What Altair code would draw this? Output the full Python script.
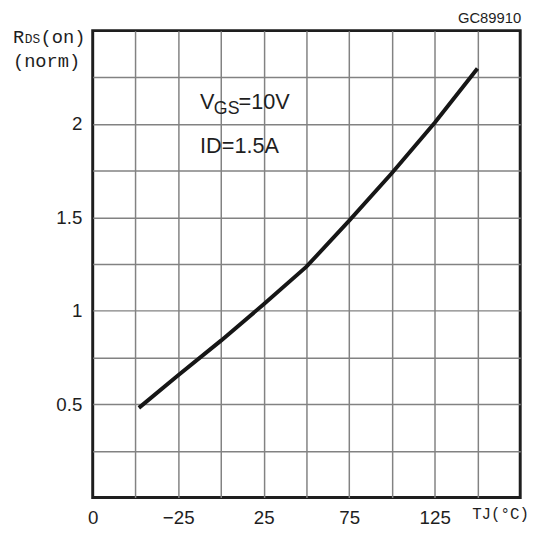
import altair as alt
import pandas as pd

# ---- data ----
temps = [-48, -25, 0, 25, 50, 75, 100, 125, 150]
rds = [0.48, 0.655, 0.84, 1.035, 1.236, 1.483, 1.738, 2.007, 2.297]

x_grid = [-75, -50, -25, 0, 25, 50, 75, 100, 125, 150, 175]
x_label_values = [-75, -25, 25, 75, 125]
x_label_texts = ["0", "\u221225", "25", "75", "125"]

y_grid = [0, 0.25, 0.5, 0.75, 1.0, 1.25, 1.5, 1.75, 2.0, 2.25, 2.5]
y_label_values = [0.5, 1.0, 1.5, 2.0]
y_label_texts = ["0.5", "1", "1.5", "2"]

x_unit = "TJ(\u00b0C)"
y_unit_main = "R"
y_unit_sub = "DS"
y_unit_tail = "(on)"
y_unit_line2 = "(norm)"
code_text = "GC89910"
cond_v = "V"
cond_v_sub = "GS"
cond_v_tail = "=10V"
cond_i = "ID=1.5A"

W, H = 434, 474
INK = "#1e1e1e"
GRID = "#828282"
FONT = "Liberation Sans"
MONO = "Liberation Mono"


def label_expr(vals, texts):
    expr = "''"
    for v, t in reversed(list(zip(vals, texts))):
        expr = f"(abs(datum.value - ({v})) < 1e-6 ? '{t}' : {expr})"
    return expr


df = pd.DataFrame({"T": temps, "R": rds})

x_axis = alt.Axis(
    values=x_grid,
    labelExpr=label_expr(x_label_values, x_label_texts),
    ticks=False,
    domain=False,
    grid=True,
    gridColor=GRID,
    gridWidth=1.5,
    gridOpacity={"condition": {"test": "datum.value <= -75 || datum.value >= 175", "value": 0}, "value": 1},
    title=None,
    labelFont=FONT,
    labelFontSize=19,
    labelColor=INK,
    labelPadding=11,
    labelOverlap=False,
    labelFlush=False,
    labelBound=False,
)
y_axis = alt.Axis(
    values=y_grid,
    labelExpr=label_expr(y_label_values, y_label_texts),
    ticks=False,
    domain=False,
    grid=True,
    gridColor=GRID,
    gridWidth=1.5,
    gridOpacity={"condition": {"test": "datum.value <= 0 || datum.value >= 2.5", "value": 0}, "value": 1},
    title=None,
    labelFont=FONT,
    labelFontSize=19,
    labelColor=INK,
    labelPadding=11,
    labelOverlap=False,
    labelFlush=False,
    labelBound=False,
)

line = alt.Chart(df).mark_line(color="#161616", strokeWidth=4, strokeCap="butt").encode(
    x=alt.X("T:Q", scale=alt.Scale(domain=[-75, 175], nice=False, zero=False), axis=x_axis),
    y=alt.Y("R:Q", scale=alt.Scale(domain=[0, 2.5], nice=False, zero=False), axis=y_axis),
)

one = pd.DataFrame({"a": [0]})


def txt(text, x, y, size, font=FONT, align="left", baseline="alphabetic"):
    return alt.Chart(one).mark_text(
        text=text, font=font, fontSize=size, color=INK, align=align, baseline=baseline
    ).encode(x=alt.value(x), y=alt.value(y))


texts = [
    txt(cond_v, 109, 80, 22),
    txt(cond_v_sub, 123, 85, 18),
    txt(cond_v_tail, 148, 80, 22),
    txt(cond_i, 109, 124, 22),
    txt(y_unit_main, -81, 13, 19, MONO),
    txt(y_unit_sub, -69, 13, 13, MONO),
    txt(y_unit_tail, -53, 13, 19, MONO),
    txt(y_unit_line2, -81, 37, 19, MONO),
    txt(code_text, 435, -8, 15, FONT, align="right"),
    txt(x_unit, 414, 496, 16, MONO, align="center"),
]

chart = alt.layer(line, *texts).properties(
    width=W,
    height=H,
    background="white",
    autosize=alt.AutoSizeParams(type="none"),
    padding={"left": 86, "top": 19, "right": 14, "bottom": 30},
).configure_view(stroke=INK, strokeWidth=3)

chart.save("out.html", embed_options={"renderer": "svg", "actions": False})
